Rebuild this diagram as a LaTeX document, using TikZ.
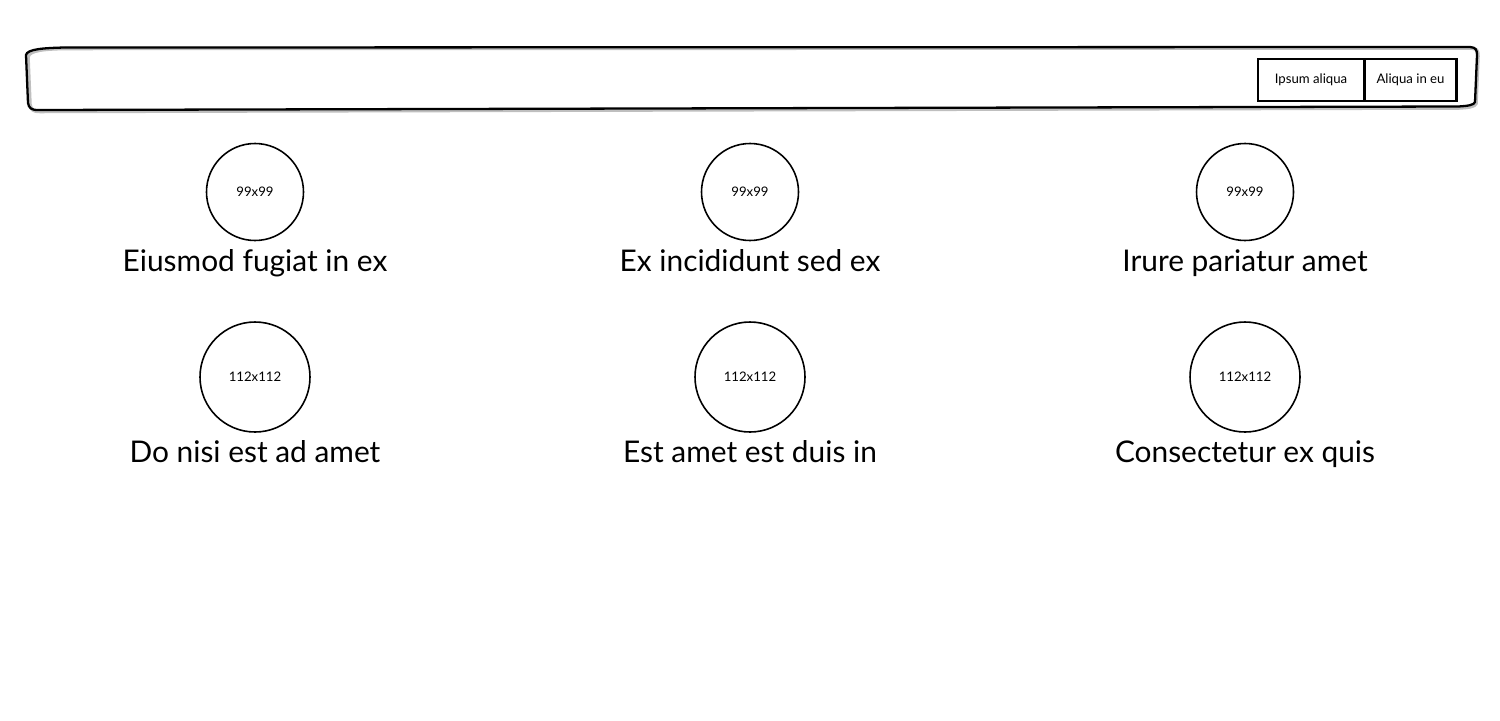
\documentclass[tikz,border=0pt]{standalone}
\usepackage{fontspec}
\setmainfont{Lato}
\usetikzlibrary{positioning}

\begin{document}
\begin{tikzpicture}[on grid,
    avatar/.style={draw,circle,line width=0.9pt,inner sep=0pt,font=\fontsize{7.5}{9}\selectfont},
    caption/.style={inner sep=0pt,text height=12pt,text depth=4pt,font=\fontsize{17}{20}\selectfont},
    navbtn/.style={draw,line width=1.4pt,inner sep=0pt,minimum height=0.84cm,font=\fontsize{7.5}{9}\selectfont}]
  \useasboundingbox (0,0) rectangle (30,-14.4);
  % navbar
  \draw[black!25,line width=2pt] (0.56,-1.14) .. controls (0.58,-1.0) and (0.9,-0.98) .. (1.3,-0.97)
    -- (29.42,-0.96) .. controls (29.54,-0.97) and (29.56,-1.02) .. (29.56,-1.12)
    -- (29.52,-2.07) .. controls (29.5,-2.13) and (29.38,-2.15) .. (29.18,-2.16)
    -- (0.8,-2.23) .. controls (0.66,-2.23) and (0.62,-2.19) .. (0.6,-2.09) -- cycle;
  \draw[line width=1.3pt] (0.52,-1.1) .. controls (0.54,-0.98) and (0.88,-0.96) .. (1.3,-0.95)
    -- (29.4,-0.94) .. controls (29.52,-0.95) and (29.54,-1.0) .. (29.54,-1.1)
    -- (29.5,-2.04) .. controls (29.48,-2.1) and (29.36,-2.12) .. (29.16,-2.13)
    -- (0.76,-2.2) .. controls (0.62,-2.2) and (0.58,-2.16) .. (0.56,-2.06) -- cycle;
  \node[navbtn,minimum width=2.12cm] (b1) at (26.22,-1.6) {Ipsum aliqua};
  \node[navbtn,minimum width=1.84cm] (b2) [right=1.99cm of b1] {Aliqua in eu};
  % avatars
  \node[avatar,minimum size=1.94cm] (a1) at (5.1,-3.84) {99x99};
  \node[avatar,minimum size=1.94cm] (a2) [right=9.9cm of a1] {99x99};
  \node[avatar,minimum size=1.94cm] (a3) [right=9.9cm of a2] {99x99};
  \node[avatar,minimum size=2.2cm] (a4) [below=3.7cm of a1] {112x112};
  \node[avatar,minimum size=2.2cm] (a5) [right=9.9cm of a4] {112x112};
  \node[avatar,minimum size=2.2cm] (a6) [right=9.9cm of a5] {112x112};
  \node[caption] (t1) [below=1.44cm of a1] {Eiusmod fugiat in ex};
  \node[caption] (t2) [below=1.44cm of a2] {Ex incididunt sed ex};
  \node[caption] (t3) [below=1.44cm of a3] {Irure pariatur amet};
  \node[caption] (t4) [below=1.56cm of a4] {Do nisi est ad amet};
  \node[caption] (t5) [below=1.56cm of a5] {Est amet est duis in};
  \node[caption] (t6) [below=1.56cm of a6] {Consectetur ex quis};
\end{tikzpicture}
\end{document}
